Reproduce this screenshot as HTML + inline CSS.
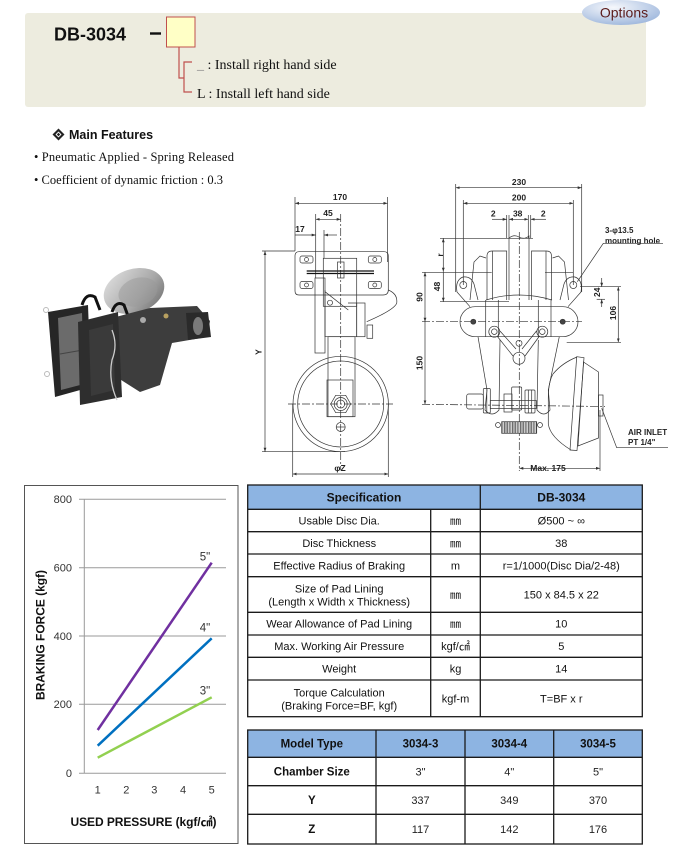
<!DOCTYPE html>
<html><head><meta charset="utf-8"><style>
html,body{margin:0;padding:0;background:#fff;}
svg{display:block}
</style></head><body>
<svg width="683" height="855" viewBox="0 0 683 855" xmlns="http://www.w3.org/2000/svg" font-family="'Liberation Sans','Noto Sans CJK KR',sans-serif">
<defs>
<radialGradient id="og" cx="0.4" cy="0.3" r="0.75"><stop offset="0" stop-color="#f6f8fc"/><stop offset="1" stop-color="#9db6dc"/></radialGradient>
<linearGradient id="dome" x1="0" y1="0" x2="1" y2="1"><stop offset="0" stop-color="#e4e4e4"/><stop offset="0.6" stop-color="#a8a8a8"/><stop offset="1" stop-color="#6a6a6a"/></linearGradient>
<marker id="a" viewBox="0 0 10 10" refX="10" refY="5" markerWidth="4" markerHeight="4" orient="auto-start-reverse" markerUnits="userSpaceOnUse"><path d="M0,1.5 L10,5 L0,8.5z" fill="#333"/></marker>
<pattern id="spr" width="1.6" height="4" patternUnits="userSpaceOnUse"><rect width="1.6" height="4" fill="#fff"/><rect width="0.9" height="4" fill="#555"/></pattern>
</defs>

<!-- HEADER -->
<rect x="25" y="13" width="621" height="94" rx="3" fill="#edecdf"/>
<ellipse cx="621" cy="12.5" rx="39" ry="12.5" fill="url(#og)"/>
<text x="624" y="17.5" text-anchor="middle" font-size="14" fill="#5c1c1c">Options</text>
<text x="54" y="40.5" font-size="18" font-weight="bold" fill="#111">DB-3034</text>
<line x1="150" y1="33.5" x2="161" y2="33.5" stroke="#111" stroke-width="2.4"/>
<rect x="166.5" y="17" width="28.5" height="30" fill="#ffffc6" stroke="#c0504d" stroke-width="1"/>
<path d="M179 47 V78 H184 M192 62 H184 V92 H192" fill="none" stroke="#c0504d" stroke-width="1.2"/>
<text x="197" y="69" font-family="'Liberation Serif',serif" font-size="14" fill="#111"><tspan fill="#888">_</tspan> : Install right hand side</text>
<text x="197" y="98" font-family="'Liberation Serif',serif" font-size="14" fill="#111">L : Install left hand side</text>

<!-- MAIN FEATURES -->
<path d="M58.5 128.5 L64.5 134.5 L58.5 140.5 L52.5 134.5Z" fill="#222"/>
<path d="M58.5 131.5 L61.5 134.5 L58.5 137.5 L55.5 134.5Z" fill="#fff"/>
<path d="M58.5 132.8 L60.2 134.5 L58.5 136.2 L56.8 134.5Z" fill="#222"/>
<text x="69" y="139" font-size="12.5" font-weight="bold" fill="#111">Main Features</text>
<text x="34" y="161" font-family="'Liberation Serif',serif" font-size="12.5" fill="#111" textLength="200">• Pneumatic  Applied - Spring Released</text>
<text x="34" y="184" font-family="'Liberation Serif',serif" font-size="12.5" fill="#111" textLength="189">• Coefficient of dynamic friction : 0.3</text>

<!-- PHOTO -->
<g>
<ellipse cx="134" cy="291" rx="31" ry="22" fill="url(#dome)" transform="rotate(-18 134 291)"/>
<ellipse cx="138" cy="292" rx="20" ry="14" fill="#9a9a9a" opacity="0.5" transform="rotate(-18 138 292)"/>
<path d="M82 305 Q86 292 95 297 L100 310" fill="none" stroke="#111" stroke-width="3"/>
<path d="M112 312 Q116 300 124 305 L128 316" fill="none" stroke="#111" stroke-width="3"/>
<polygon points="48,312 88,305 91,387 55,397" fill="#262626"/>
<polygon points="58,318 82,313 84,384 61,390" fill="#6b6b6b"/>
<line x1="60" y1="354" x2="83" y2="350" stroke="#444" stroke-width="1"/>
<polygon points="112,318 150,308 197,306 210,321 207,337 172,343 160,385 140,392 118,378" fill="#3d3d3d"/>
<polygon points="186,313 208,312 211,337 188,340" fill="#2a2a2a"/>
<ellipse cx="198" cy="326" rx="5" ry="9" fill="#7a7a7a"/>
<polygon points="78,322 118,312 122,397 80,405" fill="#2e2e2e"/>
<polygon points="89,330 113,324 115,390 91,396" fill="#3a3a3a"/>
<path d="M112 330 Q118 345 112 360 Q108 380 117 400" fill="none" stroke="#ccc" stroke-width="1.3"/>
<circle cx="143" cy="320" r="3" fill="#aaa"/>
<circle cx="166" cy="316" r="2.5" fill="#b8a060"/>
<circle cx="46" cy="310" r="2.5" fill="none" stroke="#bbb" stroke-width="1"/>
<circle cx="47" cy="374" r="2.5" fill="none" stroke="#bbb" stroke-width="1"/>
</g>

<!-- LEFT DRAWING -->
<g fill="none" stroke="#333" stroke-width="0.7">
<line x1="295" y1="203.3" x2="387.5" y2="203.3" marker-start="url(#a)" marker-end="url(#a)"/>
<line x1="295" y1="197" x2="295" y2="251"/>
<line x1="387.5" y1="197" x2="387.5" y2="262"/>
<line x1="315.7" y1="219.3" x2="340.7" y2="219.3" marker-start="url(#a)" marker-end="url(#a)"/>
<line x1="315.7" y1="214" x2="315.7" y2="278"/>
<line x1="295" y1="235" x2="315.7" y2="235" marker-end="url(#a)"/>
<line x1="337" y1="235" x2="324" y2="235" marker-end="url(#a)"/>
<line x1="324" y1="230" x2="324" y2="258"/>
<line x1="340.7" y1="214" x2="340.7" y2="470" stroke-dasharray="8,2,2,2"/>
<line x1="265" y1="251" x2="265" y2="451.7" marker-start="url(#a)" marker-end="url(#a)"/>
<line x1="262" y1="251" x2="295" y2="251"/>
<line x1="262" y1="451.7" x2="345" y2="451.7"/>
<line x1="292.7" y1="474" x2="388.3" y2="474" marker-start="url(#a)" marker-end="url(#a)"/>
<line x1="292.7" y1="404" x2="292.7" y2="477"/>
<line x1="388.3" y1="404" x2="388.3" y2="477"/>
<path d="M299 251.7 H384 Q388.3 251.7 388.3 256 V290 Q388.3 295 383 295 H299 Q295 295 295 291 V256 Q295 251.7 299 251.7Z"/>
<rect x="300" y="256" width="13" height="7" rx="2"/><circle cx="306.5" cy="259.5" r="2"/>
<rect x="368.3" y="256" width="13" height="7" rx="2"/><circle cx="374.8" cy="259.5" r="2"/>
<rect x="300" y="281.5" width="13" height="7" rx="2"/><circle cx="306.5" cy="285" r="2"/>
<rect x="368.3" y="281.5" width="13" height="7" rx="2"/><circle cx="374.8" cy="285" r="2"/>
<line x1="306.7" y1="271" x2="374" y2="271" stroke="#111" stroke-width="1.2"/>
<line x1="306.7" y1="273.5" x2="374" y2="273.5" stroke="#111" stroke-width="1.2"/>
<rect x="323.3" y="258.3" width="33.4" height="48"/>
<rect x="337.5" y="262" width="6.5" height="16"/>
<rect x="315" y="278" width="10" height="75"/>
<path d="M325 290 V336.7 H356.7 V303 H348"/>
<line x1="325" y1="291.7" x2="348.3" y2="310"/>
<circle cx="330" cy="302.7" r="2.5"/>
<rect x="356.7" y="303" width="8.3" height="33.7"/>
<rect x="328" y="336.7" width="27" height="80"/>
<rect x="327" y="380" width="26" height="36.7"/>
<path d="M388.3 290 Q398 294 396.7 303.3 Q394 310 366.7 321.7"/>
<rect x="367" y="325" width="5.7" height="13.3"/>
<circle cx="340.7" cy="404" r="47.7"/>
<circle cx="340.7" cy="404" r="43"/>
<polygon points="350.7,404 345.7,395.3 335.7,395.3 330.7,404 335.7,412.7 345.7,412.7"/>
<circle cx="340.7" cy="404" r="6.5"/>
<circle cx="340.7" cy="404" r="4"/>
<circle cx="340.7" cy="427" r="4.5"/>
<line x1="336.2" y1="427" x2="345.2" y2="427"/>
<line x1="288" y1="404" x2="393" y2="404" stroke-dasharray="8,2,2,2"/>
</g>
<g font-size="8.5" font-weight="bold" fill="#222" text-anchor="middle">
<text x="340" y="200">170</text>
<text x="328" y="216">45</text>
<text x="300" y="232">17</text>
<text transform="translate(261.5,352) rotate(-90)">Y</text>
<text x="340" y="471">φZ</text>
</g>

<!-- RIGHT DRAWING -->
<g fill="none" stroke="#333" stroke-width="0.7">
<line x1="455.7" y1="187.7" x2="581.7" y2="187.7" marker-start="url(#a)" marker-end="url(#a)"/>
<line x1="455.7" y1="184" x2="455.7" y2="292"/>
<line x1="581.7" y1="184" x2="581.7" y2="292"/>
<line x1="463.3" y1="203.3" x2="573.3" y2="203.3" marker-start="url(#a)" marker-end="url(#a)"/>
<line x1="463.3" y1="200" x2="463.3" y2="285"/>
<line x1="573.3" y1="200" x2="573.3" y2="285"/>
<line x1="492" y1="219.3" x2="506.7" y2="219.3" marker-end="url(#a)"/>
<line x1="509" y1="219.3" x2="528.3" y2="219.3" marker-start="url(#a)" marker-end="url(#a)"/>
<line x1="546" y1="219.3" x2="530.7" y2="219.3" marker-end="url(#a)"/>
<line x1="506.7" y1="215" x2="506.7" y2="238"/>
<line x1="509" y1="215" x2="509" y2="238"/>
<line x1="528.3" y1="215" x2="528.3" y2="238"/>
<line x1="530.7" y1="215" x2="530.7" y2="238"/>
<line x1="443.3" y1="238.3" x2="443.3" y2="271.7" marker-start="url(#a)" marker-end="url(#a)"/>
<line x1="443.3" y1="271.7" x2="443.3" y2="301.7" marker-end="url(#a)"/>
<line x1="440" y1="238.3" x2="533" y2="238.3"/>
<line x1="440" y1="301.7" x2="509" y2="301.7"/>
<line x1="425" y1="272.3" x2="425" y2="321.7" marker-start="url(#a)" marker-end="url(#a)"/>
<line x1="425" y1="321.7" x2="425" y2="404.3" marker-end="url(#a)"/>
<line x1="422" y1="272.3" x2="491.7" y2="272.3"/>
<line x1="545" y1="272.3" x2="573.3" y2="272.3"/>
<line x1="422" y1="321.7" x2="582" y2="321.7" stroke-dasharray="8,2,2,2"/>
<line x1="422" y1="404.3" x2="605" y2="406.5" stroke-dasharray="8,2,2,2"/>
<line x1="580" y1="286.7" x2="621" y2="286.7"/>
<line x1="596.7" y1="299.3" x2="605" y2="299.3"/>
<line x1="601.7" y1="278" x2="601.7" y2="286.7" marker-end="url(#a)"/>
<line x1="601.7" y1="307" x2="601.7" y2="299.3" marker-end="url(#a)"/>
<line x1="566.7" y1="342.3" x2="621" y2="342.3"/>
<line x1="618.3" y1="286.7" x2="618.3" y2="342.3" marker-start="url(#a)" marker-end="url(#a)"/>
<path d="M663 243.3 H603.3 L577.3 281.7"/>
<line x1="519.3" y1="232" x2="519.3" y2="471" stroke-dasharray="8,2,2,2"/>
<line x1="519.3" y1="468.3" x2="600" y2="468.3" marker-start="url(#a)" marker-end="url(#a)"/>
<line x1="600" y1="410" x2="600" y2="471"/>
<path d="M601.7 408.3 L616.7 447.7 H668"/>
<!-- disc -->
<path d="M509 300 V238 Q514 234 519 237 Q524 240 529 236 V300"/>
<!-- pads -->
<path d="M487 300 V256 Q487 251 492 251 H506.7 V300"/>
<line x1="492.5" y1="251" x2="492.5" y2="300"/>
<path d="M551.5 300 V256 Q551.5 251 546.5 251 H531.5 V300"/>
<line x1="546" y1="251" x2="546" y2="300"/>
<!-- levers upper -->
<path d="M470 300 L474 262 L480 256 L486 258"/>
<path d="M568.5 300 L564.5 262 L558.5 256 L552.5 258"/>
<!-- ears -->
<path d="M470 306.7 L457 292 Q455 280 463 277 Q471 276 474 284 L478 300"/>
<circle cx="463.3" cy="285" r="3.5"/>
<path d="M568 306.7 L581 292 Q583 280 575 277 Q567 276 564 284 L560 300"/>
<circle cx="573.3" cy="285" r="3.5"/>
<path d="M486 300 Q519 290 552 300"/>
<!-- main plate -->
<path d="M475 306.7 H563 A15 15 0 0 1 563 336.7 H475 A15 15 0 0 1 475 306.7Z"/>
<circle cx="473.3" cy="321.7" r="2.5" fill="#444"/>
<circle cx="562.7" cy="321.7" r="2.5" fill="#444"/>
<!-- lever strips -->
<line x1="485.7" y1="300" x2="485.7" y2="337"/>
<line x1="498.3" y1="300" x2="498.3" y2="337"/>
<line x1="538.3" y1="300" x2="538.3" y2="337"/>
<line x1="551" y1="300" x2="551" y2="337"/>
<!-- arms -->
<path d="M478 336.7 L487 390 L485 410 Q492 418 499 410 L500 340"/>
<path d="M559.3 336.7 L548.3 390 L550 410 Q544 418 537 410 L538.3 340"/>
<!-- rollers & link -->
<circle cx="494.3" cy="331.7" r="5.5"/><circle cx="494.3" cy="331.7" r="2.8"/>
<circle cx="542.3" cy="331.7" r="5.5"/><circle cx="542.3" cy="331.7" r="2.8"/>
<circle cx="519" cy="343.3" r="3"/>
<circle cx="519" cy="358.3" r="6"/>
<path d="M497 336 L513 356 M500 331 L516 349 M539.5 336 L525 356 M536.5 331 L522 349"/>
<!-- bolt assembly -->
<rect x="466.7" y="394" width="16.6" height="15" rx="2"/>
<rect x="483.3" y="388.5" width="7" height="24.5" rx="1"/>
<line x1="486.8" y1="388.5" x2="486.8" y2="413"/>
<rect x="490.3" y="400.5" width="46" height="8"/>
<rect x="504" y="394" width="8" height="18"/>
<rect x="511.7" y="387" width="10" height="23" rx="1"/>
<rect x="525" y="390" width="10" height="23" rx="1"/>
<line x1="528.3" y1="390" x2="528.3" y2="413"/><line x1="531.7" y1="390" x2="531.7" y2="413"/>
<rect x="501.7" y="421.7" width="35" height="11.6" fill="url(#spr)"/>
<circle cx="498" cy="425" r="2.5"/><circle cx="540" cy="425" r="2.5"/>
<!-- chamber -->
<path d="M577 357 Q562 363 553 374 Q548.3 382 548.3 398 V424 Q550 437 571 450"/>
<polygon points="576.7,356.7 584,357.7 577,450.5 570,450"/>
<polygon points="583.5,362 598.5,372 598.5,438 578,446"/>
<rect x="598.5" y="395" width="4.5" height="21"/>
</g>
<g font-size="8.5" font-weight="bold" fill="#222" text-anchor="middle">
<text x="519" y="185">230</text>
<text x="519" y="200.5">200</text>
<text x="493.3" y="216.5">2</text>
<text x="517.7" y="216.5">38</text>
<text x="543.3" y="216.5">2</text>
<text transform="translate(443,255) rotate(-90)">r</text>
<text transform="translate(440,286.5) rotate(-90)">48</text>
<text transform="translate(422.5,297) rotate(-90)">90</text>
<text transform="translate(422.5,363) rotate(-90)">150</text>
<text transform="translate(600,292.3) rotate(-90)">24</text>
<text transform="translate(616,313) rotate(-90)">106</text>
<text x="548" y="471">Max. 175</text>
<g text-anchor="start" font-size="8">
<text x="605" y="233">3-φ13.5</text>
<text x="605" y="243.5">mounting hole</text>
<text x="628" y="435">AIR INLET</text>
<text x="628" y="445">PT 1/4"</text>
</g>
</g>

<!-- CHART -->
<rect x="24.5" y="485.5" width="213.5" height="358" fill="#fff" stroke="#555" stroke-width="1"/>
<g stroke="#9a9a9a" stroke-width="1">
<line x1="79" y1="499.3" x2="226" y2="499.3"/>
<line x1="79" y1="567.7" x2="226" y2="567.7"/>
<line x1="79" y1="636" x2="226" y2="636"/>
<line x1="79" y1="704.3" x2="226" y2="704.3"/>
<line x1="79" y1="773.3" x2="226" y2="773.3"/>
<line x1="84.3" y1="499.3" x2="84.3" y2="773.3"/>
</g>
<g font-size="11" fill="#333" text-anchor="end">
<text x="72" y="503">800</text>
<text x="72" y="571.5">600</text>
<text x="72" y="640">400</text>
<text x="72" y="708">200</text>
<text x="72" y="777">0</text>
</g>
<g font-size="11" fill="#333" text-anchor="middle">
<text x="97.7" y="793.5">1</text>
<text x="126.3" y="793.5">2</text>
<text x="154.3" y="793.5">3</text>
<text x="183" y="793.5">4</text>
<text x="211.7" y="793.5">5</text>
</g>
<line x1="97.7" y1="730" x2="211.7" y2="562.7" stroke="#7030a0" stroke-width="2.5"/>
<line x1="97.7" y1="745.7" x2="211.7" y2="638.3" stroke="#0070c0" stroke-width="2.5"/>
<line x1="97.7" y1="757.7" x2="211.7" y2="697.3" stroke="#92d050" stroke-width="2.5"/>
<g font-size="11.5" fill="#333" text-anchor="middle">
<text x="205" y="560.5">5"</text>
<text x="205" y="631.5">4"</text>
<text x="205" y="694.5">3"</text>
</g>
<text transform="translate(44.5,635) rotate(-90)" text-anchor="middle" font-size="12" font-weight="bold" fill="#111" textLength="130">BRAKING FORCE (kgf)</text>
<text x="143.5" y="826" text-anchor="middle" font-size="12" font-weight="bold" fill="#111" textLength="146">USED PRESSURE (kgf/㎠)</text>

<!-- SPEC TABLE -->
<rect x="247.7" y="485" width="394.6" height="24.3" fill="#8db4e2"/>
<g stroke="#1a1a1a" stroke-width="1.3" fill="none">
<rect x="247.7" y="485" width="394.6" height="231.7"/>
<line x1="247.7" y1="509.3" x2="642.3" y2="509.3"/>
<line x1="247.7" y1="531.7" x2="642.3" y2="531.7"/>
<line x1="247.7" y1="554" x2="642.3" y2="554"/>
<line x1="247.7" y1="576.7" x2="642.3" y2="576.7"/>
<line x1="247.7" y1="612.3" x2="642.3" y2="612.3"/>
<line x1="247.7" y1="635" x2="642.3" y2="635"/>
<line x1="247.7" y1="657.3" x2="642.3" y2="657.3"/>
<line x1="247.7" y1="680" x2="642.3" y2="680"/>
<line x1="430.7" y1="509.3" x2="430.7" y2="716.7"/>
<line x1="480.3" y1="485" x2="480.3" y2="716.7"/>
</g>
<g font-size="12" font-weight="bold" fill="#111" text-anchor="middle">
<text x="364" y="501.5">Specification</text>
<text x="561.3" y="501.5">DB-3034</text>
</g>
<g font-size="11" fill="#111" text-anchor="middle">
<text x="339.2" y="524.5">Usable Disc Dia.</text>
<text x="339.2" y="547">Disc Thickness</text>
<text x="339.2" y="569.3">Effective Radius of Braking</text>
<text x="339.2" y="592.3">Size of Pad Lining</text>
<text x="339.2" y="605.7">(Length x Width x Thickness)</text>
<text x="339.2" y="627.7">Wear Allowance of Pad Lining</text>
<text x="339.2" y="650.2">Max. Working Air Pressure</text>
<text x="339.2" y="672.7">Weight</text>
<text x="339.2" y="696.3">Torque Calculation</text>
<text x="339.2" y="709.7">(Braking Force=BF, kgf)</text>
<text x="455.5" y="524.5">㎜</text>
<text x="455.5" y="547">㎜</text>
<text x="455.5" y="569.3">m</text>
<text x="455.5" y="598.5">㎜</text>
<text x="455.5" y="627.7">㎜</text>
<text x="455.5" y="650.2">kgf/㎠</text>
<text x="455.5" y="672.7">kg</text>
<text x="455.5" y="702.3">kgf-m</text>
<text x="561.3" y="524.5">Ø500 ~ ∞</text>
<text x="561.3" y="547">38</text>
<text x="561.3" y="569.3">r=1/1000(Disc Dia/2-48)</text>
<text x="561.3" y="598.5">150 x 84.5 x 22</text>
<text x="561.3" y="627.7">10</text>
<text x="561.3" y="650.2">5</text>
<text x="561.3" y="672.7">14</text>
<text x="561.3" y="702.3">T=BF x r</text>
</g>

<!-- MODEL TABLE -->
<rect x="247.7" y="730" width="394.6" height="27.3" fill="#8db4e2"/>
<g stroke="#1a1a1a" stroke-width="1.3" fill="none">
<rect x="247.7" y="730" width="394.6" height="114"/>
<line x1="247.7" y1="757.3" x2="642.3" y2="757.3"/>
<line x1="247.7" y1="785.7" x2="642.3" y2="785.7"/>
<line x1="247.7" y1="814.3" x2="642.3" y2="814.3"/>
<line x1="376" y1="730" x2="376" y2="844"/>
<line x1="465" y1="730" x2="465" y2="844"/>
<line x1="553.7" y1="730" x2="553.7" y2="844"/>
</g>
<g font-size="11.5" font-weight="bold" fill="#111" text-anchor="middle">
<text x="311.8" y="747.7">Model Type</text>
<text x="420.5" y="747.7">3034-3</text>
<text x="509.3" y="747.7">3034-4</text>
<text x="598" y="747.7">3034-5</text>
<text x="311.8" y="775.5">Chamber Size</text>
<text x="311.8" y="804">Y</text>
<text x="311.8" y="832.8">Z</text>
</g>
<g font-size="11" fill="#222" text-anchor="middle">
<text x="420.5" y="775.5">3"</text>
<text x="509.3" y="775.5">4"</text>
<text x="598" y="775.5">5"</text>
<text x="420.5" y="804">337</text>
<text x="509.3" y="804">349</text>
<text x="598" y="804">370</text>
<text x="420.5" y="832.8">117</text>
<text x="509.3" y="832.8">142</text>
<text x="598" y="832.8">176</text>
</g>
</svg>
</body></html>
